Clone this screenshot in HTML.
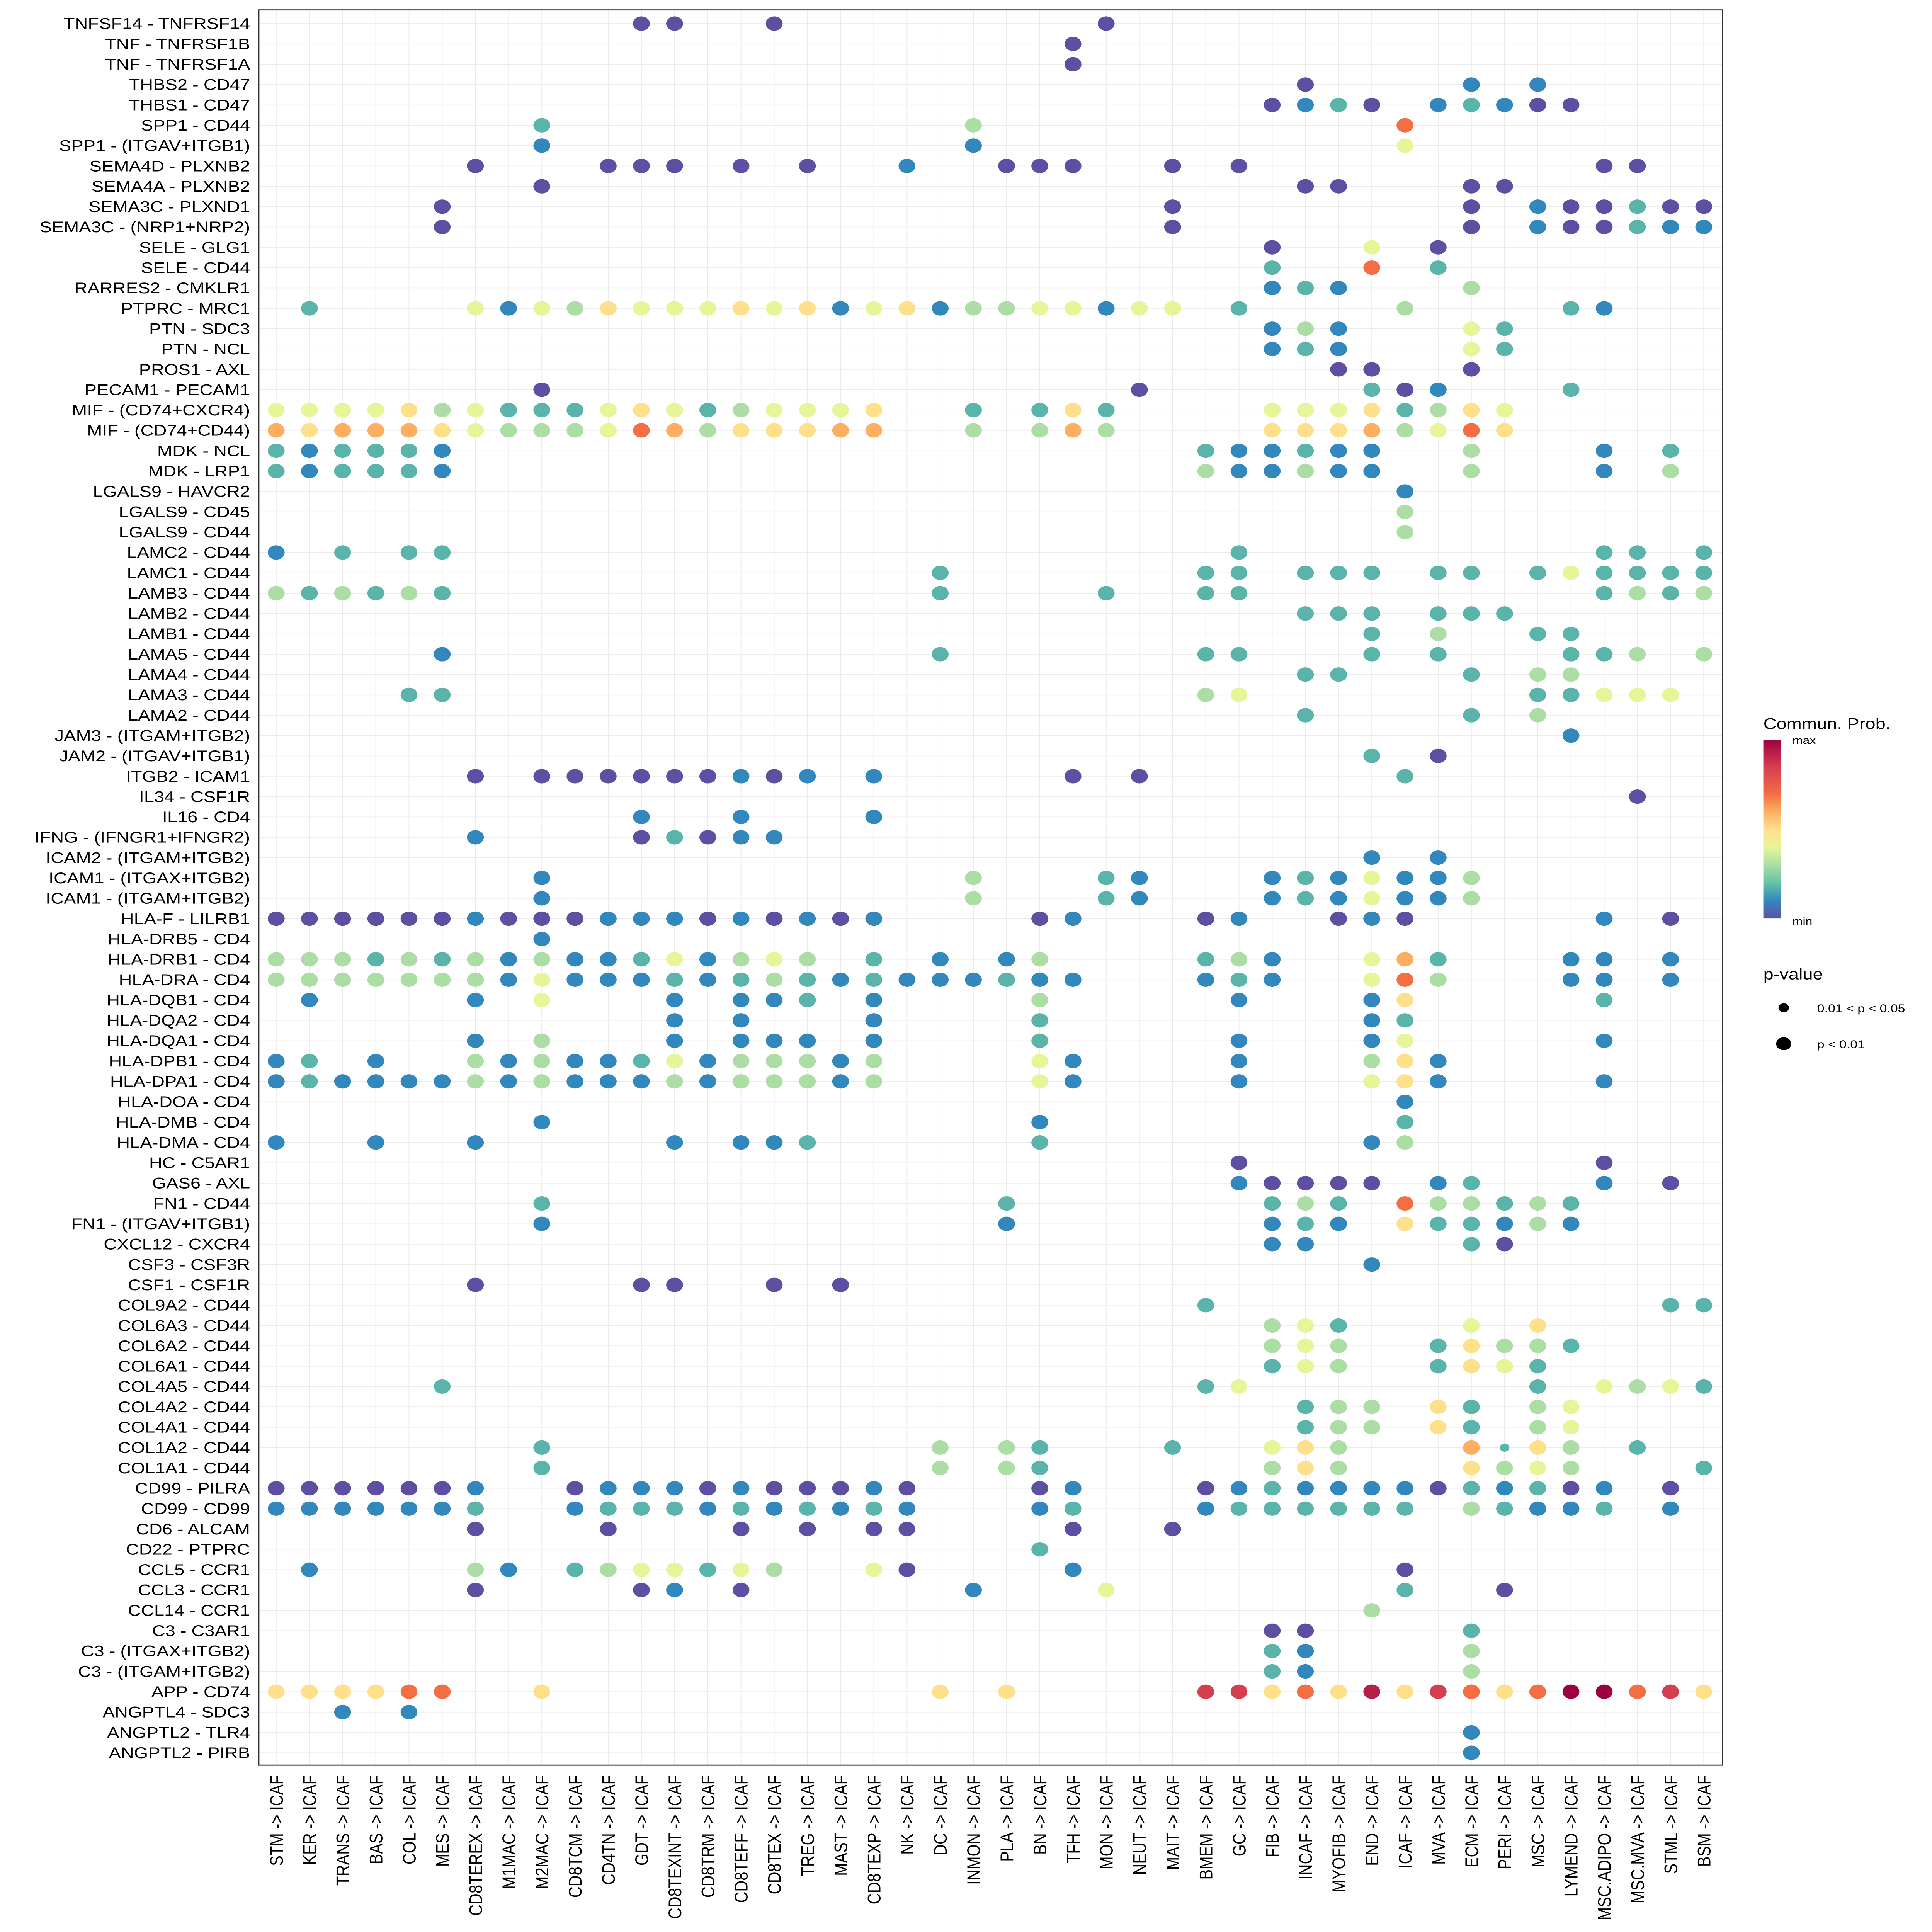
<!DOCTYPE html>
<html><head><meta charset="utf-8"><style>
html,body{margin:0;padding:0;background:#fff;width:100%;height:100%;overflow:hidden}
svg{display:block;width:100vw;height:100vh}
text{font-family:"Liberation Sans",Arial,sans-serif}
</style></head><body>
<svg id="chart" viewBox="0 0 1329 1558.6" preserveAspectRatio="none" xmlns="http://www.w3.org/2000/svg">
<rect x="0" y="0" width="1329" height="1558.6" fill="#fff"/>
<g id="grid"></g>
<g id="dots"></g>
<rect x="178" y="8" width="1007" height="1416" fill="none" stroke="#333" stroke-width="0.9"/>
<g id="ylabels"></g>
<g id="xlabels"></g>
<g>
<defs><linearGradient id="cg" x1="0" y1="1" x2="0" y2="0">
<stop offset="0" stop-color="#5E4FA2"/><stop offset="0.1" stop-color="#3288BD"/><stop offset="0.2" stop-color="#66C2A5"/><stop offset="0.3" stop-color="#ABDDA4"/><stop offset="0.4" stop-color="#E6F598"/><stop offset="0.5" stop-color="#FEE08B"/><stop offset="0.6" stop-color="#FDAE61"/><stop offset="0.7" stop-color="#F46D43"/><stop offset="0.85" stop-color="#D53E4F"/><stop offset="1" stop-color="#9E0142"/></linearGradient></defs>
<text x="1213" y="588" font-size="12.5">Commun. Prob.</text>
<rect x="1213" y="597" width="12" height="144" fill="url(#cg)"/>
<text x="1233" y="600" font-size="8.5">max</text>
<text x="1233" y="746" font-size="8.5">min</text>
<text x="1213" y="790" font-size="12.5">p-value</text>
<circle cx="1227" cy="813" r="3.6" fill="#000"/>
<text x="1250" y="816.5" font-size="9">0.01 &lt; p &lt; 0.05</text>
<circle cx="1227" cy="842" r="5.2" fill="#000"/>
<text x="1250" y="845.5" font-size="9">p &lt; 0.01</text>
</g>
</svg>
<script>
const cols = ["STM","KER","TRANS","BAS","COL","MES","CD8TEREX","M1MAC","M2MAC","CD8TCM","CD4TN","GDT","CD8TEXINT","CD8TRM","CD8TEFF","CD8TEX","TREG","MAST","CD8TEXP","NK","DC","INMON","PLA","BN","TFH","MON","NEUT","MAIT","BMEM","GC","FIB","INCAF","MYOFIB","END","ICAF","MVA","ECM","PERI","MSC","LYMEND","MSC.ADIPO","MSC.MVA","STML","BSM"];
const rows = ["TNFSF14 - TNFRSF14","TNF - TNFRSF1B","TNF - TNFRSF1A","THBS2 - CD47","THBS1 - CD47","SPP1 - CD44","SPP1 - (ITGAV+ITGB1)","SEMA4D - PLXNB2","SEMA4A - PLXNB2","SEMA3C - PLXND1","SEMA3C - (NRP1+NRP2)","SELE - GLG1","SELE - CD44","RARRES2 - CMKLR1","PTPRC - MRC1","PTN - SDC3","PTN - NCL","PROS1 - AXL","PECAM1 - PECAM1","MIF - (CD74+CXCR4)","MIF - (CD74+CD44)","MDK - NCL","MDK - LRP1","LGALS9 - HAVCR2","LGALS9 - CD45","LGALS9 - CD44","LAMC2 - CD44","LAMC1 - CD44","LAMB3 - CD44","LAMB2 - CD44","LAMB1 - CD44","LAMA5 - CD44","LAMA4 - CD44","LAMA3 - CD44","LAMA2 - CD44","JAM3 - (ITGAM+ITGB2)","JAM2 - (ITGAV+ITGB1)","ITGB2 - ICAM1","IL34 - CSF1R","IL16 - CD4","IFNG - (IFNGR1+IFNGR2)","ICAM2 - (ITGAM+ITGB2)","ICAM1 - (ITGAX+ITGB2)","ICAM1 - (ITGAM+ITGB2)","HLA-F - LILRB1","HLA-DRB5 - CD4","HLA-DRB1 - CD4","HLA-DRA - CD4","HLA-DQB1 - CD4","HLA-DQA2 - CD4","HLA-DQA1 - CD4","HLA-DPB1 - CD4","HLA-DPA1 - CD4","HLA-DOA - CD4","HLA-DMB - CD4","HLA-DMA - CD4","HC - C5AR1","GAS6 - AXL","FN1 - CD44","FN1 - (ITGAV+ITGB1)","CXCL12 - CXCR4","CSF3 - CSF3R","CSF1 - CSF1R","COL9A2 - CD44","COL6A3 - CD44","COL6A2 - CD44","COL6A1 - CD44","COL4A5 - CD44","COL4A2 - CD44","COL4A1 - CD44","COL1A2 - CD44","COL1A1 - CD44","CD99 - PILRA","CD99 - CD99","CD6 - ALCAM","CD22 - PTPRC","CCL5 - CCR1","CCL3 - CCR1","CCL14 - CCR1","C3 - C3AR1","C3 - (ITGAX+ITGB2)","C3 - (ITGAM+ITGB2)","APP - CD74","ANGPTL4 - SDC3","ANGPTL2 - TLR4","ANGPTL2 - PIRB"];
// per row: "colIndex:probLevel(0-10)" ; suffix s = 0.01<p<0.05
const values = [
"11:0 12:0 15:0 25:0","24:0","24:0","31:0 36:1 38:1",
"30:0 31:1 32:2 33:0 35:1 36:2 37:1 38:0 39:0",
"8:2 21:3 34:7","8:1 21:1 34:4",
"6:0 10:0 11:0 12:0 14:0 16:0 19:1 22:0 23:0 24:0 27:0 29:0 40:0 41:0",
"8:0 31:0 32:0 36:0 37:0",
"5:0 27:0 36:0 38:1 39:0 40:0 41:2 42:0 43:0",
"5:0 27:0 36:0 38:1 39:0 40:0 41:2 42:1 43:1",
"30:0 33:4 35:0","30:2 33:7 35:2","30:1 31:2 32:1 36:3",
"1:2 6:4 7:1 8:4 9:3 10:5 11:4 12:4 13:4 14:5 15:4 16:5 17:1 18:4 19:5 20:1 21:3 22:3 23:4 24:4 25:1 26:4 27:4 29:2 34:3 39:2 40:1",
"30:1 31:3 32:1 36:4 37:2","30:1 31:2 32:1 36:4 37:2","32:0 33:0 36:0",
"8:0 26:0 33:2 34:0 35:1 39:2",
"0:4 1:4 2:4 3:4 4:5 5:3 6:4 7:2 8:2 9:2 10:4 11:5 12:4 13:2 14:3 15:4 16:4 17:4 18:5 21:2 23:2 24:5 25:2 30:4 31:4 32:4 33:5 34:2 35:3 36:5 37:4",
"0:6 1:5 2:6 3:6 4:6 5:5 6:4 7:3 8:3 9:3 10:4 11:7 12:6 13:3 14:5 15:5 16:5 17:6 18:6 21:3 23:3 24:6 25:3 30:5 31:5 32:5 33:6 34:3 35:4 36:7 37:5",
"0:2 1:1 2:2 3:2 4:2 5:1 28:2 29:1 30:1 31:2 32:1 33:1 36:3 40:1 42:2",
"0:2 1:1 2:2 3:2 4:2 5:1 28:3 29:1 30:1 31:3 32:1 33:1 36:3 40:1 42:3",
"34:1","34:3","34:3",
"0:1 2:2 4:2 5:2 29:2 40:2 41:2 43:2",
"20:2 28:2 29:2 31:2 32:2 33:2 35:2 36:2 38:2 39:4 40:2 41:2 42:2 43:2",
"0:3 1:2 2:3 3:2 4:3 5:2 20:2 25:2 28:2 29:2 40:2 41:3 42:2 43:3",
"31:2 32:2 33:2 35:2 36:2 37:2","33:2 35:3 38:2 39:2",
"5:1 20:2 28:2 29:2 33:2 35:2 39:2 40:2 41:3 43:3",
"31:2 32:2 36:2 38:3 39:3",
"4:2 5:2 28:3 29:4 38:2 39:2 40:4 41:4 42:4",
"31:2 36:2 38:3","39:1","33:2 35:0",
"6:0 8:0 9:0 10:0 11:0 12:0 13:0 14:1 15:0 16:1 18:1 24:0 26:0 34:2",
"41:0","11:1 14:1 18:1","6:1 11:0 12:2 13:0 14:1 15:1","33:1 35:1",
"8:1 21:3 25:2 26:1 30:1 31:2 32:1 33:4 34:1 35:1 36:3",
"8:1 21:3 25:2 26:1 30:1 31:2 32:1 33:4 34:1 35:1 36:3",
"0:0 1:0 2:0 3:0 4:0 5:0 6:1 7:0 8:0 9:0 10:1 11:1 12:1 13:0 14:1 15:0 16:1 17:0 18:1 23:0 24:1 28:0 29:1 32:0 33:1 34:0 40:1 42:0",
"8:1",
"0:3 1:3 2:3 3:2 4:3 5:2 6:3 7:1 8:3 9:1 10:1 11:2 12:4 13:1 14:3 15:4 16:3 18:2 20:1 22:1 23:3 28:2 29:3 30:1 33:4 34:6 35:2 39:1 40:1 42:1",
"0:3 1:3 2:3 3:3 4:3 5:3 6:3 7:1 8:4 9:1 10:1 11:1 12:2 13:1 14:2 15:3 16:2 17:1 18:2 19:1 20:1 21:1 22:2 23:1 24:1 28:1 29:2 30:1 33:4 34:7 35:3 39:1 40:1 42:1",
"1:1 6:1 8:4 12:1 14:1 15:1 16:2 18:1 23:3 29:1 33:1 34:5 40:2",
"12:1 14:1 18:1 23:2 33:1 34:2",
"6:1 8:3 12:1 14:1 15:1 16:1 18:1 23:2 29:1 33:1 34:4 40:1",
"0:1 1:2 3:1 6:3 7:1 8:3 9:1 10:1 11:2 12:4 13:1 14:3 15:3 16:3 17:1 18:3 23:4 24:1 29:1 33:3 34:5 35:1",
"0:1 1:2 2:1 3:1 4:1 5:1 6:3 7:1 8:3 9:1 10:1 11:1 12:3 13:1 14:3 15:3 16:3 17:1 18:3 23:4 24:1 29:1 33:4 34:5 35:1 40:1",
"34:1","8:1 23:1 34:2",
"0:1 3:1 6:1 12:1 14:1 15:1 16:2 23:2 33:1 34:3",
"29:0 40:0",
"29:1 30:0 31:0 32:0 33:0 35:1 36:2 40:1 42:0",
"8:2 22:2 30:2 31:3 32:2 34:7 35:3 36:3 37:2 38:3 39:2",
"8:1 22:1 30:1 31:2 32:1 34:5 35:2 36:2 37:1 38:3 39:1",
"30:1 31:1 36:2 37:0","33:1","6:0 11:0 12:0 15:0 17:0",
"28:2 42:2 43:2",
"30:3 31:4 32:2 36:4 38:5",
"30:3 31:4 32:3 35:2 36:5 37:3 38:3 39:2",
"30:2 31:4 32:3 35:2 36:5 37:4 38:2",
"5:2 28:2 29:4 38:2 40:4 41:3 42:4 43:2",
"31:2 32:3 33:3 35:5 36:2 38:3 39:4",
"31:2 32:3 33:3 35:5 36:2 38:3 39:4",
"8:2 20:3 22:3 23:2 27:2 30:4 31:5 32:3 36:6 37:2s 38:5 39:3 41:2",
"8:2 20:3 22:3 23:2 30:3 31:5 32:3 36:5 37:3 38:4 39:3 43:2",
"0:0 1:0 2:0 3:0 4:0 5:0 6:1 9:0 10:1 11:1 12:1 13:0 14:1 15:0 16:0 17:0 18:1 19:0 23:0 24:1 28:0 29:1 30:2 31:1 32:1 33:1 34:1 35:0 36:2 37:1 38:2 39:0 40:1 42:0",
"0:1 1:1 2:1 3:1 4:1 5:1 6:2 9:1 10:2 11:2 12:2 13:1 14:2 15:1 16:2 17:1 18:2 19:1 23:1 24:2 28:1 29:2 30:2 31:2 32:2 33:2 34:2 36:3 37:2 38:1 39:1 40:2 42:1",
"6:0 10:0 14:0 16:0 18:0 19:0 24:0 27:0",
"23:2",
"1:1 6:3 7:1 9:2 10:3 11:4 12:4 13:2 14:4 15:3 18:4 19:0 24:1 34:0",
"6:0 11:0 12:1 14:0 21:1 25:4 34:2 37:0",
"33:3","30:0 31:0 36:2","30:2 31:1 36:3","30:2 31:1 36:3",
"0:5 1:5 2:5 3:5 4:7 5:7 8:5 20:5 22:5 28:8 29:8 30:5 31:7 32:5 33:9 34:5 35:8 36:7 37:5 38:7 39:10 40:10 41:7 42:8 43:5",
"2:1 4:1","36:1","36:1"];
const palette = ["#5E4FA2","#3288BD","#5AB4AA","#ABDDA4","#E6F598","#FEE08B","#FDAE61","#F46D43","#D53E4F","#B41F48","#9E0142"];

const NS="http://www.w3.org/2000/svg";
const x0=190, dx=(1172-190)/43, y0=19, dy=(1414-19)/85;
function xScale(c){return x0+c*dx;}
function yScale(r){return y0+r*dy;}
const grid=document.getElementById('grid'), dots=document.getElementById('dots');
const yl=document.getElementById('ylabels'), xl=document.getElementById('xlabels');
function mk(tag,attrs,parent){const e=document.createElementNS(NS,tag);for(const k in attrs)e.setAttribute(k,attrs[k]);parent.appendChild(e);return e;}
cols.forEach((c,i)=>{
  const l=mk('line',{x1:xScale(i),x2:xScale(i),y1:8,y2:1424,stroke:'#ebebeb','stroke-width':0.5},grid);
  
  
  const t=mk('text',{x:0,y:0,'font-size':12.5,'text-anchor':'end',transform:'translate('+(xScale(i)+4.5)+',1432) rotate(-90)'},xl);
  t.textContent=c+' -> ICAF';
  
  
});
rows.forEach((r,j)=>{
  const l=mk('line',{x1:178,x2:1185,y1:yScale(j),y2:yScale(j),stroke:'#ebebeb','stroke-width':0.5},grid);
  
  
  const t=mk('text',{x:172,y:yScale(j)+4.3,'font-size':12.5,'text-anchor':'end'},yl);
  t.textContent=r;
  
  
  values[j].split(' ').forEach(p=>{
    if(!p)return;
    const [c,vs]=p.split(':');
    const small=vs.endsWith('s');
    const v=parseInt(vs);
    const d=mk('circle',{cx:xScale(+c),cy:yScale(j),r:small?3.3:5.8,fill:palette[v]},dots);
    
    
  });
});
</script>
</body></html>
